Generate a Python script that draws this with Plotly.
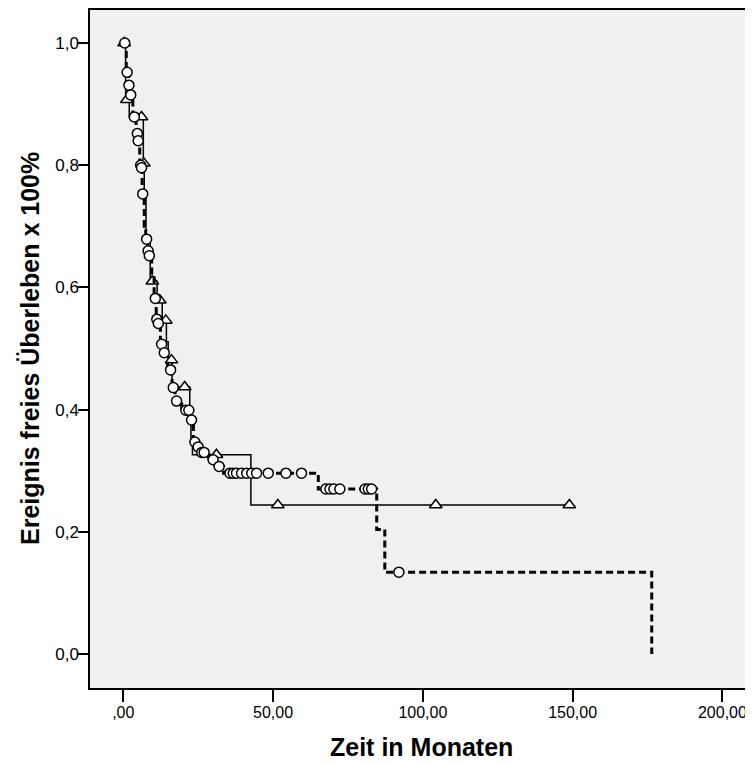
import numpy as np
import plotly.graph_objects as go

# Group with solid line / triangle censor marks
solid_event_times = [0.8, 2.0, 6.7, 7.0, 7.6, 9.0, 11.3, 13.0, 14.4, 15.0, 16.3, 22.2, 22.6, 23.1, 42.6]
solid_survival    = [0.907, 0.879, 0.803, 0.753, 0.680, 0.610, 0.579, 0.546, 0.511, 0.481, 0.437, 0.400, 0.345, 0.326, 0.244]
solid_censor_times = [0.3, 1.2, 6.1, 6.9, 9.7, 12.2, 14.2, 16.1, 20.5, 31.1, 51.6, 104.3, 148.9]

# Group with dashed line / circle censor marks
dashed_event_times = [1.0, 1.7, 2.2, 3.2, 4.3, 4.9, 5.5, 5.9, 6.3, 7.0, 7.5, 8.1, 8.5, 9.5, 10.3,
                      11.0, 11.5, 12.4, 13.3, 14.8, 16.3, 17.3, 19.5, 22.3, 23.4, 24.5, 25.8,
                      28.5, 31.0, 33.5, 65.1, 84.6, 87.3, 176.4]
dashed_survival    = [0.952, 0.931, 0.915, 0.879, 0.852, 0.840, 0.800, 0.796, 0.753, 0.700, 0.679,
                      0.660, 0.652, 0.620, 0.582, 0.548, 0.541, 0.507, 0.493, 0.465, 0.436, 0.414,
                      0.399, 0.383, 0.347, 0.339, 0.330, 0.318, 0.307, 0.296, 0.270, 0.204, 0.134, 0.0]
dashed_censor_times = [0.5, 1.3, 1.9, 2.5, 3.7, 4.7, 5.0, 5.8, 6.1, 6.5, 7.8, 8.3, 8.7, 10.7, 11.2, 11.7,
                       12.8, 13.7, 15.8, 16.7, 17.8, 20.9, 21.9, 22.8, 23.9, 25.0, 26.2, 27.0, 30.0,
                       32.0, 35.6, 36.7, 37.8, 39.5, 41.2, 42.9, 44.5, 48.4, 54.3, 59.5,
                       67.6, 69.0, 70.3, 72.3, 80.7, 81.8, 82.9, 92.0]

x_tickvals = [0, 50, 100, 150, 200]
x_ticktext = [",00", "50,00", "100,00", "150,00", "200,00"]
y_tickvals = [0.0, 0.2, 0.4, 0.6, 0.8, 1.0]
y_ticktext = ["0,0", "0,2", "0,4", "0,6", "0,8", "1,0"]


def step_value(times, surv, t):
    idx = np.searchsorted(np.array(times), t, side="right") - 1
    return 1.0 if idx < 0 else surv[idx]


def step_path(times, surv, end_t):
    xs = [0.0] + list(times)
    ys = [1.0] + list(surv)
    if end_t > times[-1]:
        xs.append(end_t)
        ys.append(surv[-1])
    return xs, ys


FONT = "Liberation Sans, Arial, sans-serif"

fig = go.Figure()

sx, sy = step_path(solid_event_times, solid_survival, max(solid_censor_times))
fig.add_trace(go.Scatter(x=sx, y=sy, mode="lines", line=dict(color="#000", width=1.5, shape="hv"),
                         hoverinfo="skip", showlegend=False))
fig.add_trace(go.Scatter(x=solid_censor_times,
                         y=[step_value(solid_event_times, solid_survival, t) for t in solid_censor_times],
                         mode="markers",
                         marker=dict(symbol="triangle-up", size=11, color="white",
                                     line=dict(color="#000", width=1.5)),
                         showlegend=False))

dx, dy = step_path(dashed_event_times, dashed_survival, max(dashed_censor_times))
fig.add_trace(go.Scatter(x=dx, y=dy, mode="lines",
                         line=dict(color="#000", width=3, shape="hv", dash="7px,4px"),
                         hoverinfo="skip", showlegend=False))
fig.add_trace(go.Scatter(x=dashed_censor_times,
                         y=[step_value(dashed_event_times, dashed_survival, t) for t in dashed_censor_times],
                         mode="markers",
                         marker=dict(symbol="circle", size=10, color="white",
                                     line=dict(color="#000", width=1.5)),
                         showlegend=False))

fig.update_layout(
    width=745, height=755,
    margin=dict(l=82, r=0, t=2, b=75),
    paper_bgcolor="white", plot_bgcolor="#f0f0f0",
    font=dict(family=FONT, color="#000"),
    xaxis=dict(range=[-11.1, 210.2], tickvals=x_tickvals, ticktext=x_ticktext,
               showgrid=False, zeroline=False, showline=True, linecolor="#000", linewidth=1.5,
               mirror=True, ticks="outside", ticklen=12, tickwidth=1.5, tickcolor="#000",
               ticklabelstandoff=-3,
               tickfont=dict(size=16, family=FONT, color="#000")),
    yaxis=dict(range=[-0.0556, 1.054], tickvals=y_tickvals, ticktext=y_ticktext,
               showgrid=False, zeroline=False, showline=True, linecolor="#000", linewidth=1.5,
               ticks="outside", ticklen=10, tickwidth=1.5, tickcolor="#000",
               ticklabelstandoff=-4,
               tickfont=dict(size=17, family=FONT, color="#000")),
    annotations=[
        dict(text="<b>Zeit in Monaten</b>", xref="paper", yref="paper", x=0.5, y=0,
             xanchor="center", yanchor="middle", yshift=-59, showarrow=False,
             font=dict(size=25, family=FONT, color="#000")),
        dict(text="<b>Ereignis freies Überleben x 100%</b>", xref="paper", yref="paper",
             x=0, y=0.5, xanchor="center", yanchor="middle", xshift=-60, textangle=-90,
             showarrow=False, font=dict(size=25, family=FONT, color="#000")),
    ],
)

fig.write_html("out.html")
